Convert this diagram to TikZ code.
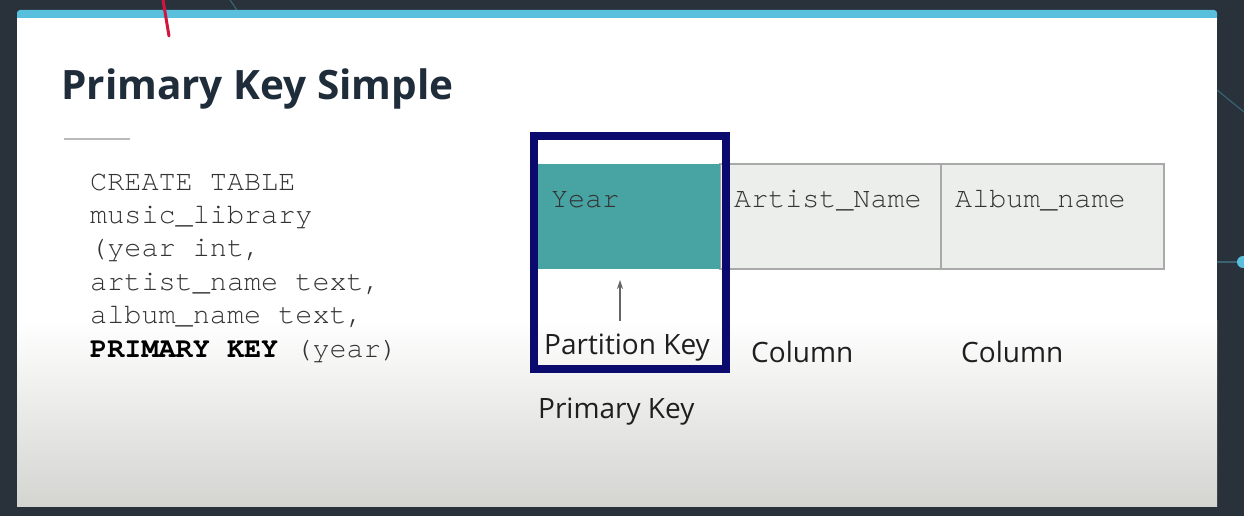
\documentclass[tikz,border=0pt]{standalone}
\usepackage{fontspec}
\setmainfont{Open Sans}
\newfontfamily\codefont{TeX Gyre Cursor}
\usetikzlibrary{arrows.meta}
\definecolor{bgdark}{HTML}{29313A}
\definecolor{barblue}{HTML}{58BFDD}
\definecolor{titleink}{HTML}{1F2C39}
\definecolor{codeink}{HTML}{333333}
\definecolor{keyteal}{HTML}{48A3A3}
\definecolor{cellgray}{HTML}{ECEEEC}
\definecolor{cellline}{HTML}{A9A9A9}
\definecolor{navy}{HTML}{0B0A6E}
\definecolor{slidebottom}{HTML}{D4D5D1}
\definecolor{accentred}{HTML}{D0163E}
\tikzset{
  codeline/.style={anchor=base west, inner sep=0pt, text=codeink,
    font=\codefont\fontsize{28.5}{34}\selectfont},
  cellbox/.style={draw=cellline, line width=1.2pt, fill=cellgray, inner sep=0pt},
  celltext/.style={anchor=base west, inner sep=0pt, text=codeink,
    font=\codefont\fontsize{28.4}{34}\selectfont},
  label/.style={anchor=base west, inner sep=0pt, text=black!88,
    font=\fontsize{28}{33}\selectfont},
}
\begin{document}
\begin{tikzpicture}[x=1pt,y=-1pt]
  \useasboundingbox (0,0) rectangle (1244,516);
  % dark backdrop with faint decorative strokes
  \fill[bgdark] (0,0) rectangle (1244,516);
  \draw[barblue!35!bgdark, line width=1.2pt] (230,0) .. controls (245,20) and (250,40) .. (255,60);
  \draw[barblue!35!bgdark, line width=1.2pt] (1217,90) -- (1244,112);
  \draw[barblue!35!bgdark, line width=1.2pt] (1215,262) -- (1238,262);
  \fill[barblue] (1243,262) circle (6);
  % slide
  \fill[barblue, rounded corners=3pt] (17,10) rectangle (1217,24);
  \fill[white] (17,18) rectangle (1217,506);
  \shade[top color=white, bottom color=slidebottom] (17,320) rectangle (1217,506);
  \draw[accentred, line width=3pt, line cap=round] (163,0) -- (169,36);
  % title and rule
  \node[anchor=base west, inner sep=0pt, text=titleink,
        font=\bfseries\fontsize{40.5}{48}\selectfont] (title) at (61,100) {Primary Key Simple};
  \draw[cellline!80, line width=2pt] (64,139) -- (130,139);
  % table definition
  \node[codeline] (c1) at (90,190)   {CREATE TABLE};
  \node[codeline] (c2) at (90,223.4) {music\_library};
  \node[codeline] (c3) at (90,256.8) {(year int,};
  \node[codeline] (c4) at (90,290.2) {artist\_name text,};
  \node[codeline] (c5) at (90,323.6) {album\_name text,};
  \node[codeline] (c6) at (90,357)   {\textcolor{black}{\bfseries PRIMARY KEY} (year)};
  % row of cells
  \node[cellbox, minimum width=221pt, minimum height=105pt] (artist) at (830.5,216.5) {};
  \node[cellbox, minimum width=223pt, minimum height=105pt] (album) at (1052.5,216.5) {};
  \node[fill=keyteal, inner sep=0pt, minimum width=183pt, minimum height=105pt] (year) at (628.5,216.5) {};
  \node[celltext] (yeart) at (551,207) {Year};
  \node[celltext] (artistt) at (734,207) {Artist\_Name};
  \node[celltext] (albumt) at (955,207) {Album\_name};
  % primary key frame
  \node[draw=navy, line width=8pt, inner sep=0pt, minimum width=192pt, minimum height=233pt] (pk) at (629.5,252.5) {};
  % labels
  \node[label] (part) at (544,354) {Partition Key};
  \coordinate (arrowfoot) at (620,321);
  \coordinate (arrowtip) at (620,280);
  \draw[-{Stealth[length=9pt,width=6pt]}, black!60, line width=1.1pt] (arrowfoot) -- (arrowtip);
  \node[label] (col1) at (751,362) {Column};
  \node[label] (col2) at (961,362) {Column};
  \node[label] (pklabel) at (538,418) {Primary Key};
\end{tikzpicture}
\end{document}
